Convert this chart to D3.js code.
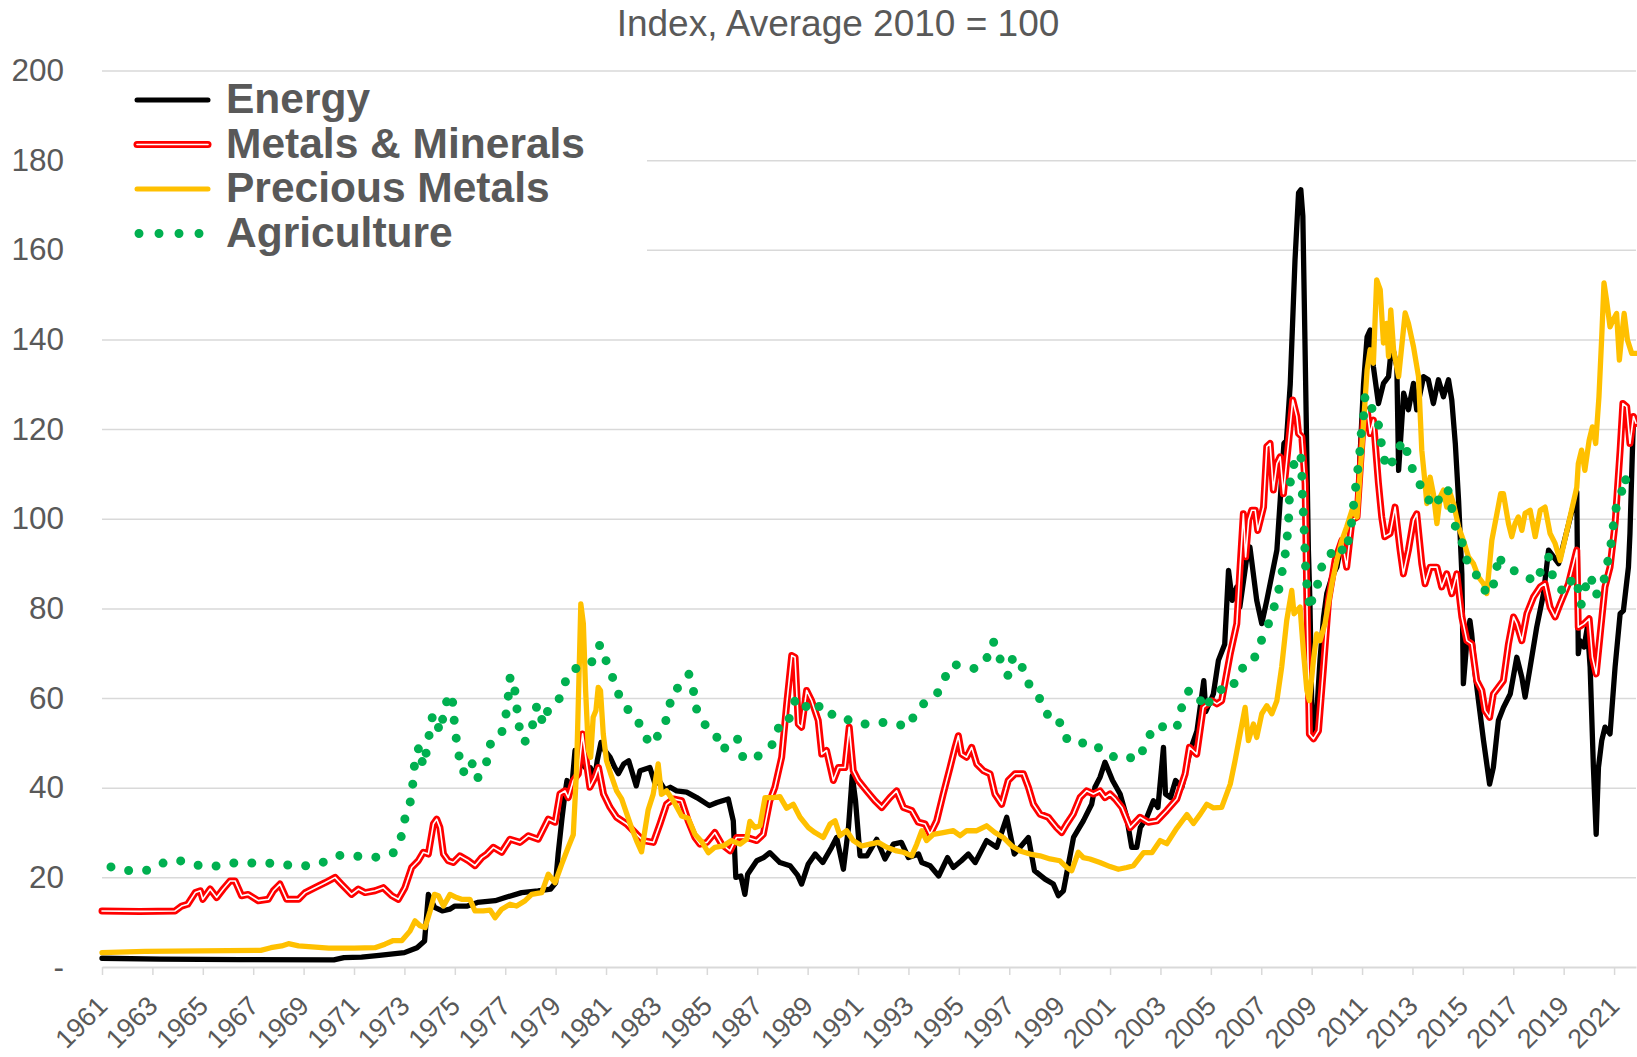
<!DOCTYPE html>
<html><head><meta charset="utf-8">
<script src="https://cdn.jsdelivr.net/npm/d3@7"></script>
<style>
body{margin:0;background:#fff}
svg{display:block}
text{font-family:"Liberation Sans",Arial,Helvetica,sans-serif}
</style>
</head><body>
<svg id="chart" width="1637" height="1057"></svg>
<script>
// ---------- DATA ----------
const titleText = "Index, Average 2010 = 100";
const seriesNames = ["Energy", "Metals & Minerals", "Precious Metals", "Agriculture"];
const yTickValues = [0, 20, 40, 60, 80, 100, 120, 140, 160, 180, 200];
const xTickYears = [1961,1963,1965,1967,1969,1971,1973,1975,1977,1979,1981,1983,1985,1987,1989,1991,1993,1995,1997,1999,2001,2003,2005,2007,2009,2011,2013,2015,2017,2019,2021];

// [year, index value]
const energy = [[1961.0,1.95],[1963.3,1.75],[1966.5,1.65],[1970.2,1.6],[1970.6,2.1],[1971.3,2.2],[1972.0,2.6],[1973.0,3.2],[1973.5,4.3],[1973.8,5.8],[1973.95,16.2],[1974.2,13.3],[1974.5,12.5],[1974.8,12.9],[1975.0,13.6],[1975.5,13.6],[1975.9,14.4],[1976.6,14.8],[1977.0,15.5],[1977.65,16.6],[1978.3,17.0],[1978.8,17.4],[1979.0,18.8],[1979.1,25.2],[1979.25,33],[1979.37,38.6],[1979.45,41.6],[1979.64,40.1],[1979.77,48.3],[1979.97,46],[1980.17,44.5],[1980.37,44.5],[1980.56,42.3],[1980.65,46],[1980.8,50.1],[1980.95,48.3],[1981.16,46.8],[1981.35,44.5],[1981.49,43.1],[1981.7,45.3],[1981.9,46],[1982.2,40.4],[1982.35,43.8],[1982.74,44.5],[1982.95,40.8],[1983.1,41.6],[1983.34,39.5],[1983.55,40.1],[1983.8,39.3],[1984.2,39],[1984.6,37.8],[1985.1,36],[1985.4,36.7],[1985.85,37.5],[1986.05,32.6],[1986.15,20],[1986.35,20.3],[1986.51,16.2],[1986.62,20.7],[1986.98,23.7],[1987.25,24.4],[1987.5,25.5],[1987.9,23.3],[1988.3,22.6],[1988.6,20.5],[1988.76,18.5],[1989.02,22.9],[1989.3,25.2],[1989.6,23.3],[1989.95,26.7],[1990.15,28.9],[1990.42,21.8],[1990.62,31.1],[1990.77,42.7],[1990.9,37.1],[1991.08,24.8],[1991.35,24.8],[1991.74,28.5],[1992.07,24.1],[1992.4,27.4],[1992.72,27.8],[1993.0,24.4],[1993.4,25.2],[1993.53,23.3],[1993.86,22.6],[1994.2,20.3],[1994.55,24.4],[1994.78,22.2],[1995.1,23.7],[1995.38,25.2],[1995.65,23.3],[1996.1,28.2],[1996.5,26.7],[1996.9,33.4],[1997.2,25.2],[1997.76,28.9],[1998.0,21.5],[1998.42,19.6],[1998.75,18.5],[1998.95,15.9],[1999.15,17],[1999.55,28.9],[1999.94,32.6],[2000.27,36.3],[2000.4,40.1],[2000.6,42.3],[2000.8,45.7],[2001.1,41.6],[2001.4,38.6],[2001.66,33.4],[2001.86,26.7],[2002.06,26.7],[2002.2,31.1],[2002.46,33.4],[2002.72,37.1],[2002.9,35.6],[2003.12,49],[2003.2,38.6],[2003.4,37.8],[2003.6,41.6],[2003.85,40.1],[2004.18,48.3],[2004.45,52.7],[2004.72,63.9],[2004.8,57],[2005.1,60.9],[2005.3,68.4],[2005.55,72],[2005.7,88.5],[2005.85,81.8],[2006.03,84.8],[2006.15,80.3],[2006.43,91.5],[2006.55,93.7],[2006.82,81.8],[2007.02,76.6],[2007.22,81.8],[2007.62,93],[2007.75,104],[2007.9,116.8],[2008.0,117.5],[2008.15,130],[2008.34,157.8],[2008.48,172.7],[2008.57,173.4],[2008.65,167.5],[2008.74,137.6],[2008.87,93],[2008.93,81.8],[2009.0,59.4],[2009.07,52],[2009.2,56.5],[2009.33,68.4],[2009.47,78],[2009.6,83.3],[2009.8,87],[2010.0,89.2],[2010.2,95.2],[2010.4,92.2],[2010.6,99.7],[2010.8,100.4],[2011.06,130.2],[2011.2,140.6],[2011.32,142.1],[2011.45,133.9],[2011.65,125.7],[2011.85,130.2],[2012.05,131.7],[2012.18,139.1],[2012.38,133.9],[2012.45,110.8],[2012.65,128],[2012.84,124.3],[2013.04,130.2],[2013.17,124.3],[2013.44,131.7],[2013.63,131],[2013.83,125.7],[2014.03,131],[2014.23,127.2],[2014.43,131],[2014.56,126.5],[2014.7,116.8],[2014.83,104.1],[2014.96,87.7],[2015.02,63.2],[2015.16,72.8],[2015.28,77.3],[2015.35,74.3],[2015.49,65.4],[2015.62,59.4],[2015.82,50.5],[2016.06,40.8],[2016.21,44.5],[2016.41,55],[2016.61,57.9],[2016.88,60.9],[2017.14,69.1],[2017.34,64.6],[2017.47,60.2],[2017.67,66.9],[2017.93,75.8],[2018.2,83.3],[2018.4,93],[2018.6,91.5],[2018.8,90],[2019.52,106],[2019.58,69.9],[2019.65,72.8],[2019.81,71.4],[2019.94,75.8],[2020.05,66.9],[2020.18,44.5],[2020.29,29.6],[2020.38,44.5],[2020.51,50.5],[2020.64,53.5],[2020.84,52],[2021.04,66.9],[2021.24,78.8],[2021.37,79.5],[2021.57,89.2],[2021.63,96.7],[2021.7,110],[2021.77,122.8],[2021.87,121.3]];

const metals = [[1961,12.5],[1962.5,12.4],[1963.9,12.5],[1964.16,13.6],[1964.4,14],[1964.7,16.6],[1964.9,17],[1965.0,15.1],[1965.29,17.4],[1965.55,15.5],[1965.81,17.4],[1966.08,19.2],[1966.28,19.2],[1966.54,15.9],[1966.8,16.2],[1967.2,14.8],[1967.6,15.1],[1967.8,17],[1968.06,18.5],[1968.33,15.1],[1968.8,15.1],[1969.06,16.6],[1969.45,17.7],[1969.85,18.8],[1970.25,20],[1970.5,18.5],[1970.9,16.2],[1971.17,17.4],[1971.44,16.6],[1971.83,17],[1972.16,17.7],[1972.5,15.9],[1972.76,15.1],[1973.02,17.7],[1973.29,22.2],[1973.55,23.7],[1973.75,25.6],[1973.95,25.2],[1974.15,31.9],[1974.28,33],[1974.41,31.1],[1974.55,25.2],[1974.74,23.7],[1974.94,23.3],[1975.2,24.8],[1975.54,23.7],[1975.8,22.6],[1976.07,24.4],[1976.27,25.2],[1976.53,26.7],[1976.86,25.6],[1977.19,28.5],[1977.59,27.8],[1977.92,29.3],[1978.31,28.5],[1978.71,33],[1978.98,32.3],[1979.17,38.6],[1979.37,39.3],[1979.5,37.8],[1979.7,41.6],[1979.9,43.1],[1980.07,52],[1980.23,45.3],[1980.36,40.1],[1980.56,42.3],[1980.7,44.5],[1980.9,38.6],[1981.16,35.6],[1981.42,33.4],[1981.82,31.9],[1982.22,29.6],[1982.48,28.2],[1982.88,27.8],[1983.14,31.9],[1983.4,36.3],[1983.67,37.5],[1984,37.1],[1984.26,32.6],[1984.53,28.9],[1984.73,27.4],[1985,27.8],[1985.32,30],[1985.59,27.4],[1985.92,25.9],[1986.18,28.9],[1986.58,28.9],[1986.98,28.2],[1987.24,29.6],[1987.5,37.1],[1987.7,40.1],[1987.97,46.8],[1988.17,58.7],[1988.37,69.5],[1988.5,69.1],[1988.63,54.2],[1988.76,53.5],[1988.96,61.7],[1989.16,59.4],[1989.42,55],[1989.56,47.5],[1989.75,48.3],[1990.02,41.6],[1990.22,44.5],[1990.48,44.5],[1990.65,53.5],[1990.81,43.8],[1991.01,41.6],[1991.34,39.3],[1991.67,37.1],[1991.94,35.6],[1992.27,37.8],[1992.53,39.3],[1992.8,35.6],[1993.13,34.9],[1993.39,32.3],[1993.66,31.9],[1993.86,29.6],[1994.12,32.6],[1994.38,38.6],[1994.65,44.5],[1994.85,49],[1994.98,51.6],[1995.11,47.5],[1995.31,46.8],[1995.51,49],[1995.71,45.3],[1995.97,43.8],[1996.24,43.1],[1996.43,38.6],[1996.7,36.3],[1996.96,41.6],[1997.23,43.1],[1997.56,43.1],[1997.76,40.1],[1997.96,36.3],[1998.22,34.1],[1998.55,33.4],[1998.88,31.1],[1999.08,30],[1999.28,31.9],[1999.54,34.1],[1999.81,37.8],[2000.07,39.3],[2000.34,38.6],[2000.6,39.3],[2000.8,37.8],[2001.0,38.6],[2001.2,37.5],[2001.47,35.6],[2001.8,31.1],[2002.19,33.4],[2002.52,32.3],[2002.86,32.6],[2003.25,34.9],[2003.65,37.5],[2003.98,43.1],[2004.15,49],[2004.44,47.5],[2004.7,57.9],[2005.04,59.4],[2005.24,58.7],[2005.43,59.4],[2005.77,69.9],[2006.03,76.6],[2006.16,89.2],[2006.29,101.1],[2006.38,91.5],[2006.5,99.7],[2006.62,101.9],[2006.76,101.9],[2006.86,97.4],[2007.09,102.6],[2007.22,116.1],[2007.35,116.8],[2007.48,106.4],[2007.62,112.3],[2007.75,113.8],[2007.88,105.6],[2008.08,116.8],[2008.25,126.5],[2008.41,122.8],[2008.48,119],[2008.61,118.3],[2008.74,107.9],[2008.81,81.8],[2008.91,52],[2009.07,50.9],[2009.27,52.7],[2009.47,66.9],[2009.67,81.8],[2009.93,90.7],[2010.2,95.2],[2010.39,89.2],[2010.6,99.7],[2010.8,100.4],[2011.06,122.8],[2011.2,124.3],[2011.32,119],[2011.45,122],[2011.65,107.9],[2011.78,100.4],[2011.9,96],[2012.11,96.7],[2012.31,102.6],[2012.51,93],[2012.64,87.7],[2012.84,93],[2013.04,99.7],[2013.17,101.1],[2013.37,90],[2013.5,85.5],[2013.7,89.2],[2013.97,89.2],[2014.16,84.8],[2014.36,87.7],[2014.56,83.3],[2014.76,87.7],[2014.96,78.1],[2015.16,72.8],[2015.35,72.1],[2015.55,63.9],[2015.75,61.7],[2015.88,57.2],[2016.06,55.7],[2016.21,60.9],[2016.41,62.4],[2016.61,63.9],[2016.81,72.1],[2017.01,78.1],[2017.14,76.6],[2017.34,72.8],[2017.54,78.8],[2017.8,82.5],[2018.07,84.8],[2018.26,85.5],[2018.46,80.3],[2018.66,78.1],[2018.86,81],[2019.19,85.5],[2019.52,93],[2019.58,75.8],[2019.81,76.6],[2020.01,77.7],[2020.14,69.1],[2020.29,65.4],[2020.45,74.3],[2020.64,84.8],[2020.84,89.2],[2021.04,98.9],[2021.24,115.3],[2021.35,125.7],[2021.5,125],[2021.63,116.8],[2021.77,122.8],[2021.87,121.3]];

const precious = [[1961,3.2],[1962.7,3.5],[1967.3,3.7],[1967.7,4.3],[1968.13,4.7],[1968.4,5.2],[1968.8,4.7],[1970,4.2],[1971,4.2],[1971.83,4.3],[1972.23,5.1],[1972.56,5.9],[1972.9,5.9],[1973.22,8],[1973.42,10.3],[1973.62,9.2],[1973.82,8.8],[1974.02,12.5],[1974.19,16.2],[1974.35,15.9],[1974.55,13.6],[1974.81,16.2],[1975.07,15.5],[1975.27,15.1],[1975.6,15.1],[1975.8,12.5],[1976.13,12.5],[1976.4,12.7],[1976.6,11],[1976.86,12.9],[1977.19,14],[1977.45,13.6],[1977.79,14.8],[1978.05,16.2],[1978.45,16.6],[1978.71,20.7],[1978.98,18.8],[1979.24,22.9],[1979.5,26.7],[1979.7,29.5],[1979.83,43.8],[1979.92,63.2],[1980.0,81],[1980.1,76.6],[1980.19,61.7],[1980.3,48.3],[1980.39,46.8],[1980.49,55.7],[1980.6,57.2],[1980.69,62.4],[1980.78,61.7],[1980.89,52],[1981.02,46],[1981.22,42.5],[1981.42,39.3],[1981.62,37.5],[1981.82,34.2],[1982.01,31.1],[1982.21,28.2],[1982.41,25.7],[1982.54,30.4],[1982.67,35],[1982.87,38.5],[1983.07,45.3],[1983.2,38.5],[1983.4,39.3],[1983.67,37.1],[1984,33.7],[1984.26,33.2],[1984.53,29.6],[1984.79,28],[1985.06,25.5],[1985.32,26.7],[1985.65,27],[1985.98,28.2],[1986.32,27.4],[1986.58,28.5],[1986.71,32.5],[1986.91,31.1],[1987.11,31.5],[1987.31,37.8],[1987.64,37.8],[1987.9,38],[1988.17,35.4],[1988.43,36.3],[1988.7,33.4],[1989.03,31.1],[1989.29,30],[1989.62,28.9],[1989.89,31.9],[1990.09,32.6],[1990.28,29.3],[1990.55,30.4],[1990.81,28.2],[1991.14,27],[1991.47,27.4],[1991.8,27.8],[1992.14,26.7],[1992.53,25.9],[1992.8,25.6],[1993.13,24.8],[1993.33,27.4],[1993.53,30.4],[1993.72,28.2],[1993.99,29.6],[1994.38,30],[1994.78,30.4],[1995.05,29.3],[1995.31,30.4],[1995.71,30.4],[1996.1,31.5],[1996.43,30],[1996.76,28.9],[1997.1,27],[1997.43,25.9],[1997.82,25.2],[1998.22,24.8],[1998.62,24.1],[1999.01,23.7],[1999.28,22.2],[1999.48,21.5],[1999.74,25.6],[1999.94,24.4],[2000.2,24.1],[2000.6,23.3],[2001.0,22.4],[2001.33,21.8],[2001.66,22.2],[2001.93,22.6],[2002.33,25.5],[2002.66,25.5],[2002.99,28.2],[2003.25,27.5],[2003.65,31],[2004.05,34],[2004.31,32],[2004.58,34.1],[2004.84,36.3],[2005.1,35.5],[2005.43,35.6],[2005.77,40.8],[2005.96,46],[2006.16,52],[2006.36,57.9],[2006.49,50.5],[2006.69,54.2],[2006.82,51.2],[2007.02,56.5],[2007.22,58.3],[2007.42,56.5],[2007.62,59.4],[2007.81,66.9],[2008.01,77.3],[2008.21,84],[2008.3,78.8],[2008.41,79.5],[2008.54,80.3],[2008.67,70.6],[2008.81,61.7],[2008.91,59.4],[2009.07,68.4],[2009.2,74.3],[2009.33,72.8],[2009.53,76.6],[2009.8,85.5],[2010,90.7],[2010.2,95.2],[2010.39,98.2],[2010.6,101.9],[2010.8,100.4],[2011.06,121.3],[2011.2,133.2],[2011.32,137.7],[2011.45,134.7],[2011.58,153.3],[2011.72,151.1],[2011.85,139.2],[2011.98,143.6],[2012.05,136.2],[2012.14,146.6],[2012.25,137.7],[2012.45,131.7],[2012.71,145.9],[2012.84,143.6],[2013.04,138.4],[2013.24,131.7],[2013.37,115.3],[2013.5,107.9],[2013.57,103.4],[2013.7,109.3],[2013.83,105.6],[2013.97,98.9],[2014.1,104.9],[2014.23,106.4],[2014.36,102.6],[2014.5,105.6],[2014.63,103.4],[2014.83,98.2],[2015.02,95.2],[2015.22,91.5],[2015.42,90],[2015.62,87],[2015.82,85.5],[2015.95,83.3],[2016.15,95.2],[2016.35,101.1],[2016.5,105.6],[2016.61,105.6],[2016.81,98.9],[2016.94,96],[2017.07,98.9],[2017.2,100.4],[2017.34,97.4],[2017.47,101.2],[2017.67,101.9],[2017.87,96],[2018.07,101.9],[2018.26,102.6],[2018.46,96.7],[2018.66,94.5],[2018.86,90.7],[2019.52,107],[2019.58,112.3],[2019.71,115.3],[2019.84,110.8],[2020.01,117.5],[2020.14,120.5],[2020.27,116.8],[2020.4,127.2],[2020.51,140.6],[2020.6,152.6],[2020.7,148.8],[2020.84,142.8],[2020.97,144.4],[2021.1,145.8],[2021.21,135.4],[2021.3,140.6],[2021.4,145.8],[2021.53,139.9],[2021.7,136.9],[2021.87,136.9]];

const agriculture = [[1961.0,22.4],[1961.34,22.35],[1962.08,21.5],[1962.81,21.6],[1963.47,23.3],[1964.04,23.8],[1964.77,22.7],[1965.5,22.5],[1966.19,23.2],[1966.82,23.2],[1967.56,23.2],[1968.29,22.8],[1968.99,22.5],[1969.7,23.2],[1970.42,24.9],[1971.16,24.7],[1971.89,24.5],[1972.56,25.5],[1972.9,29.4],[1973.04,33.7],[1973.29,37.8],[1973.35,42.2],[1973.43,46.8],[1973.59,49.2],[1973.74,44.8],[1973.91,48.9],[1974.02,53.4],[1974.13,56.4],[1974.43,52.4],[1974.56,56.7],[1974.69,59.5],[1974.89,60.9],[1974.95,56.4],[1975.03,52],[1975.15,47.5],[1975.33,43.4],[1975.48,44.5],[1975.64,46.2],[1975.88,41.9],[1976.25,45.5],[1976.42,49.9],[1976.83,51.6],[1977.02,55.9],[1977.12,60.4],[1977.2,64.9],[1977.35,63.1],[1977.45,58.6],[1977.52,54.2],[1977.77,50.1],[1978.1,54.2],[1978.26,58.5],[1978.51,54.2],[1978.72,57.7],[1979.11,59.4],[1979.37,63.4],[1979.57,66],[1979.97,67],[1980.17,67],[1980.43,68],[1980.76,71.9],[1980.92,69.4],[1981.19,65.9],[1981.42,61.7],[1981.78,57.9],[1982.22,55.6],[1982.49,51.8],[1982.82,49.5],[1983.21,53],[1983.5,56.5],[1983.58,60.9],[1983.99,63],[1984.29,65.3],[1984.45,62.7],[1984.53,58.3],[1984.87,54.3],[1985.31,52.6],[1985.59,48.3],[1985.9,49.7],[1986.2,51.2],[1986.43,46.8],[1986.88,46.2],[1987.29,48.5],[1987.64,49.8],[1987.88,54],[1988.19,54],[1988.4,57.9],[1988.54,60],[1988.87,57.9],[1989.33,59.4],[1989.64,56.2],[1990.23,56.5],[1990.81,54.4],[1991.3,54.2],[1991.84,54.6],[1992.44,54.4],[1992.98,53.5],[1993.34,57.3],[1993.6,58.7],[1994.15,61.1],[1994.46,64.7],[1994.73,67.5],[1995.18,67.2],[1995.68,66.5],[1996.1,68.8],[1996.37,72.6],[1996.65,68.5],[1996.96,64.9],[1997.15,69.3],[1997.45,67.9],[1997.7,63.8],[1998.05,60.9],[1998.37,58.8],[1998.62,54.6],[1999.05,54.5],[1999.32,50.4],[1999.68,49.9],[2000.32,50.1],[2000.84,47.3],[2001.33,46.7],[2001.69,47.1],[2002.01,46],[2002.43,49.4],[2002.7,53.6],[2003.19,53.6],[2003.64,53.1],[2003.81,57.4],[2004.11,61.5],[2004.42,61.5],[2004.75,57.5],[2005.12,60.8],[2005.35,61.9],[2005.83,61.7],[2006.06,65.6],[2006.36,67.2],[2006.66,67.8],[2006.86,71.1],[2007.18,74.9],[2007.44,79],[2007.66,83.1],[2007.81,87.6],[2007.95,92.1],[2008.05,97],[2008.1,101.2],[2008.12,105.6],[2008.18,110],[2008.41,114.2],[2008.57,114.4],[2008.61,110.1],[2008.63,105.6],[2008.67,101.2],[2008.71,96.7],[2008.74,92.1],[2008.77,87.6],[2008.85,83.1],[2008.95,79.6],[2009.07,84.2],[2009.31,85.9],[2009.42,90],[2009.67,90.7],[2009.84,93.3],[2010.1,94.1],[2010.3,92.2],[2010.53,96.5],[2010.62,101],[2010.79,109.2],[2010.9,113.8],[2010.95,118.3],[2011.06,122.9],[2011.12,127.5],[2011.25,127.2],[2011.49,122.8],[2011.72,120.1],[2011.78,115.5],[2011.98,111.2],[2012.06,111.2],[2012.31,114],[2012.48,116.1],[2012.71,117.4],[2012.84,113.1],[2013.17,109],[2013.33,107.3],[2013.54,104.7],[2013.97,102.6],[2014.1,106],[2014.4,106.6],[2014.56,102.3],[2014.72,97.8],[2015.01,94.2],[2015.2,89.8],[2015.6,87],[2015.79,84.4],[2016.11,83.1],[2016.31,87.4],[2016.41,92],[2016.61,89.5],[2017.01,88.5],[2017.27,87.6],[2017.58,87.1],[2017.84,85.7],[2018.11,88.5],[2018.4,91.5],[2018.57,87],[2018.75,85.9],[2018.99,83.4],[2019.41,87.1],[2019.56,84.8],[2019.69,80.7],[2019.88,85],[2020.08,87.4],[2020.22,82.9],[2020.51,83.9],[2020.67,88.3],[2020.82,92.4],[2020.95,96.9],[2021.0,101.3],[2021.28,104.9],[2021.37,109.3],[2021.53,108.2],[2021.77,109.6],[2021.87,109.8]];

// ---------- CHART ----------
const svg = d3.select("#chart");
const pL = 102, pR = 1636, pB = 967, pT = 70.5;
const x = d3.scaleLinear().domain([1961, 2021.87]).range([pL, pR]);
const y = d3.scaleLinear().domain([0, 200]).range([pB, pT]);
const grey = "#595959", gridCol = "#d9d9d9";

// title
svg.append("text").attr("x", 838).attr("y", 36).attr("text-anchor", "middle")
  .attr("font-size", 37).attr("fill", grey).text(titleText);

// gridlines
const grid = svg.append("g").attr("transform", `translate(${pL},0)`)
  .call(d3.axisLeft(y).tickValues(yTickValues.filter(v => v > 0)).tickSize(-(pR - pL)).tickFormat(""));
grid.select(".domain").remove();
grid.selectAll("line").attr("stroke", gridCol).attr("stroke-width", 1.5);

// y labels
const yAx = svg.append("g").attr("transform", `translate(${pL},0)`)
  .call(d3.axisLeft(y).tickValues(yTickValues).tickSize(0).tickPadding(38)
    .tickFormat(d => d === 0 ? "-" : d));
yAx.select(".domain").remove();
yAx.selectAll("text").attr("font-size", 31.5).attr("fill", grey)
  .attr("font-family", '"Liberation Sans",Arial,sans-serif');

// x axis
const xAx = svg.append("g").attr("transform", `translate(0,${pB})`)
  .call(d3.axisBottom(x).tickValues(xTickYears).tickSize(8).tickSizeOuter(0).tickFormat(d => String(d)));
xAx.select(".domain").attr("stroke", gridCol).attr("stroke-width", 1.8);
xAx.selectAll(".tick line").attr("stroke", gridCol).attr("stroke-width", 1.5);
xAx.selectAll("text")
  .attr("font-size", 27).attr("fill", grey)
  .attr("font-family", '"Liberation Sans",Arial,sans-serif')
  .attr("text-anchor", "end")
  .attr("x", 0).attr("y", 0).attr("dy", "0.71em")
  .attr("transform", "translate(-7,27) rotate(-45)");

// lines
const line = d3.line().x(d => x(d[0])).y(d => y(d[1])).curve(d3.curveLinear);
const plot = svg.append("g").attr("fill", "none").attr("stroke-linejoin", "round").attr("stroke-linecap", "round");

plot.append("path").datum(energy).attr("d", line).attr("stroke", "#000").attr("stroke-width", 5.3);
plot.append("path").datum(metals).attr("d", line).attr("stroke", "#ff0000").attr("stroke-width", 7);
plot.append("path").datum(metals).attr("d", line).attr("stroke", "#fff").attr("stroke-width", 1.6);
plot.append("path").datum(precious).attr("d", line).attr("stroke", "#ffc000").attr("stroke-width", 5.3);
plot.append("path").datum(agriculture).attr("d", line).attr("stroke", "#00b050").attr("stroke-width", 9)
  .attr("stroke-dasharray", "0 18").attr("stroke-dashoffset", 9).attr("stroke-linecap", "round");

// legend
const leg = svg.append("g");
leg.append("rect").attr("x", pL - 1).attr("y", 77).attr("width", 648 - pL).attr("height", 182).attr("fill", "#fff");
const rows = [100, 144.5, 189, 233.5];
const lx1 = 137, lx2 = 208;
leg.append("line").attr("x1", lx1).attr("x2", lx2).attr("y1", rows[0]).attr("y2", rows[0])
  .attr("stroke", "#000").attr("stroke-width", 5).attr("stroke-linecap", "round");
leg.append("line").attr("x1", lx1).attr("x2", lx2).attr("y1", rows[1]).attr("y2", rows[1])
  .attr("stroke", "#ff0000").attr("stroke-width", 7).attr("stroke-linecap", "round");
leg.append("line").attr("x1", lx1).attr("x2", lx2).attr("y1", rows[1]).attr("y2", rows[1])
  .attr("stroke", "#fff").attr("stroke-width", 1.6).attr("stroke-linecap", "round");
leg.append("line").attr("x1", lx1).attr("x2", lx2).attr("y1", rows[2]).attr("y2", rows[2])
  .attr("stroke", "#ffc000").attr("stroke-width", 5).attr("stroke-linecap", "round");
leg.append("line").attr("x1", 139).attr("x2", 200).attr("y1", rows[3]).attr("y2", rows[3])
  .attr("stroke", "#00b050").attr("stroke-width", 9).attr("stroke-linecap", "round").attr("stroke-dasharray", "0 20");
seriesNames.forEach((n, i) => {
  leg.append("text").attr("x", 226).attr("y", rows[i] + 13).attr("font-size", 42.5)
    .attr("font-weight", "bold").attr("fill", grey).text(n);
});
</script>
</body></html>
